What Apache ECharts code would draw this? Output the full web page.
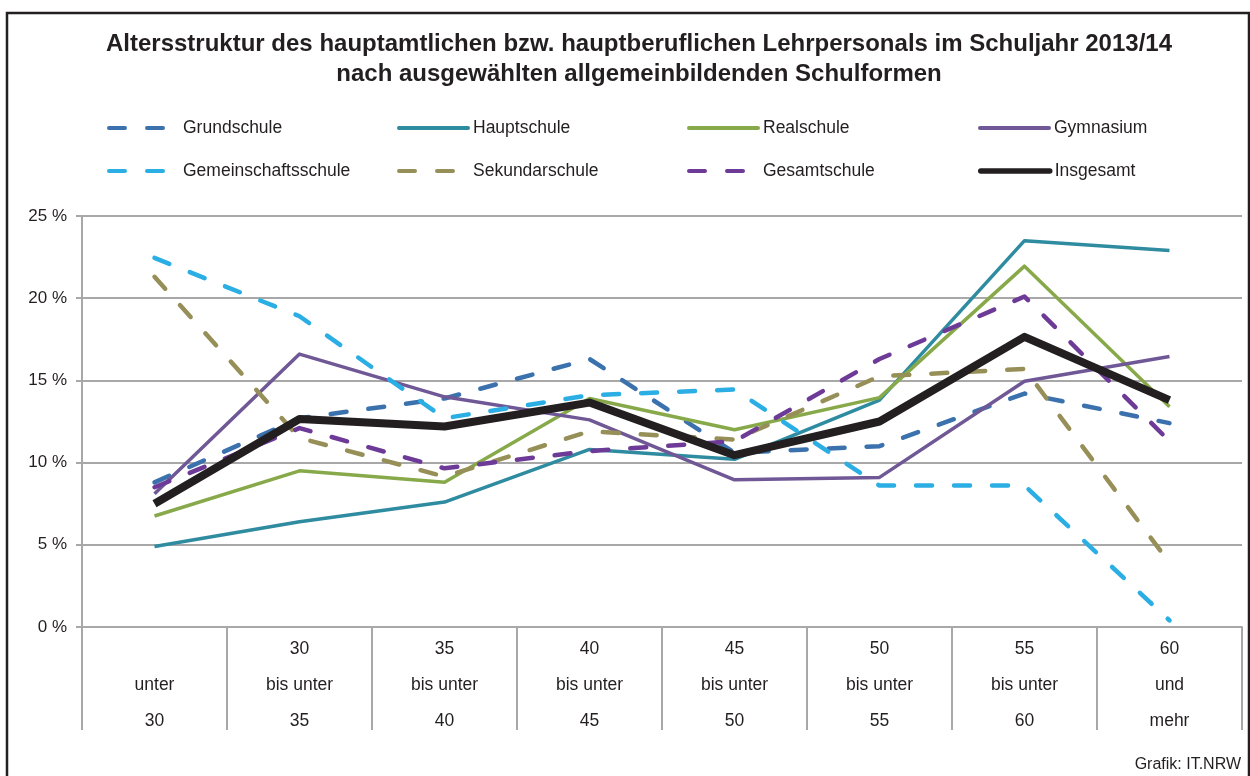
<!DOCTYPE html>
<html>
<head>
<meta charset="utf-8">
<script src="https://cdn.jsdelivr.net/npm/echarts@6/dist/echarts.min.js"></script>
<style>
  html, body { margin: 0; padding: 0; background: #fff; }
  #chart { width: 1250px; height: 776px; }
</style>
</head>
<body>
<div id="chart"></div>
<script>
// age groups (x axis)
const categories = [
  '\nunter\n30', '30\nbis unter\n35', '35\nbis unter\n40', '40\nbis unter\n45',
  '45\nbis unter\n50', '50\nbis unter\n55', '55\nbis unter\n60', '60\nund\nmehr'
]
const yTicks = [0, 5, 10, 15, 20, 25]

// share of teachers in %
const grundschule = [8.8, 12.7, 13.9, 16.3, 10.6, 11.0, 14.2, 12.4]
const hauptschule = [4.9, 6.4, 7.6, 10.8, 10.2, 13.8, 23.5, 22.9]
const realschule = [6.75, 9.5, 8.8, 13.9, 12.0, 13.95, 21.95, 13.4]
const gymnasium = [8.1, 16.6, 14.0, 12.6, 8.95, 9.1, 14.95, 16.45]
const gemeinschaftsschule = [22.45, 18.9, 12.7, 14.1, 14.45, 8.6, 8.6, 0.4]
const sekundarschule = [21.3, 11.5, 9.15, 11.9, 11.4, 15.25, 15.7, 3.9]
const gesamtschule = [8.5, 12.1, 9.65, 10.7, 11.3, 16.3, 20.1, 11.3]
const insgesamt = [7.5, 12.65, 12.2, 13.65, 10.45, 12.5, 17.65, 13.8]

const dash = [16, 22]
const grey = '#a8a8a8'
const font = 'Arial, "Liberation Sans", Helvetica, sans-serif'

// name, data, colour, width, dashed, legend column, legend row
const lines = [
  ['Grundschule', grundschule, '#3b72ad', 4.5, true, 0, 0],
  ['Hauptschule', hauptschule, '#2f8ba0', 3.5, false, 1, 0],
  ['Realschule', realschule, '#87a94a', 3.5, false, 2, 0],
  ['Gymnasium', gymnasium, '#6f5895', 3.5, false, 3, 0],
  ['Gemeinschaftsschule', gemeinschaftsschule, '#2aaee4', 4.5, true, 0, 1],
  ['Sekundarschule', sekundarschule, '#978f58', 4.5, true, 1, 1],
  ['Gesamtschule', gesamtschule, '#6e3a98', 4.5, true, 2, 1],
  ['Insgesamt', insgesamt, '#231f20', 8, false, 3, 1]
]
const legendX = [107, 397, 687, 978]
const legendY = [126, 169]

let myChart = echarts.init(document.getElementById('chart'))

myChart.setOption({
  backgroundColor: '#fff',
  animation: false,
  title: {
    text: 'Altersstruktur des hauptamtlichen bzw. hauptberuflichen Lehrpersonals im Schuljahr 2013/14\nnach ausgewählten allgemeinbildenden Schulformen',
    left: 634,
    textAlign: 'center',
    top: 24,
    textStyle: {
      fontFamily: font,
      fontSize: 24,
      fontWeight: 'bold',
      lineHeight: 30,
      color: '#231f20'
    }
  },
  legend: lines.map(function (l) {
    return {
      left: legendX[l[5]],
      top: legendY[l[6]] - 7,
      itemWidth: 69,
      itemHeight: 14,
      itemGap: 0,
      padding: 0,
      data: [l[0]],
      textStyle: { fontFamily: font, fontSize: 17.5, color: '#231f20' },
      itemStyle: { opacity: 0 },
      lineStyle: { width: l[0] === 'Insgesamt' ? 5.5 : 4, cap: 'round' }
    }
  }),
  grid: {
    left: 82,
    right: 8,
    top: 216,
    bottom: 149
  },
  xAxis: {
    type: 'category',
    data: categories,
    boundaryGap: true,
    axisLine: { lineStyle: { color: grey, width: 2 } },
    axisTick: { show: true, interval: 0, length: 103, lineStyle: { color: grey, width: 2 } },
    axisLabel: {
      interval: 0,
      margin: 4,
      fontFamily: font,
      fontSize: 17.5,
      lineHeight: 36,
      color: '#231f20'
    }
  },
  yAxis: {
    type: 'value',
    min: yTicks[0],
    max: yTicks[yTicks.length - 1],
    interval: 5,
    axisLine: { show: true, lineStyle: { color: grey, width: 2 } },
    axisTick: { show: true, length: 6, lineStyle: { color: grey, width: 2 } },
    splitLine: { lineStyle: { color: grey, width: 2 } },
    axisLabel: {
      formatter: '{value} %',
      margin: 15,
      fontFamily: font,
      fontSize: 17,
      color: '#231f20'
    }
  },
  series: lines.map(function (l) {
    return {
      name: l[0],
      type: 'line',
      data: l[1],
      symbol: 'none',
      color: l[2],
      lineStyle: {
        color: l[2],
        width: l[3],
        type: l[4] ? dash : 'solid',
        cap: l[4] ? 'round' : 'butt',
        join: 'round'
      },
      z: l[0] === 'Insgesamt' ? 5 : 3
    }
  }),
  graphic: [
    {
      type: 'rect',
      shape: { x: 7, y: 13, width: 1242, height: 800 },
      style: { fill: 'none', stroke: '#231f20', lineWidth: 2.5 },
      silent: true
    },
    {
      type: 'text',
      right: 9,
      top: 757,
      style: { text: 'Grafik: IT.NRW', fontFamily: font, fontSize: 16, fill: '#231f20' }
    }
  ]
})
</script>
</body>
</html>
